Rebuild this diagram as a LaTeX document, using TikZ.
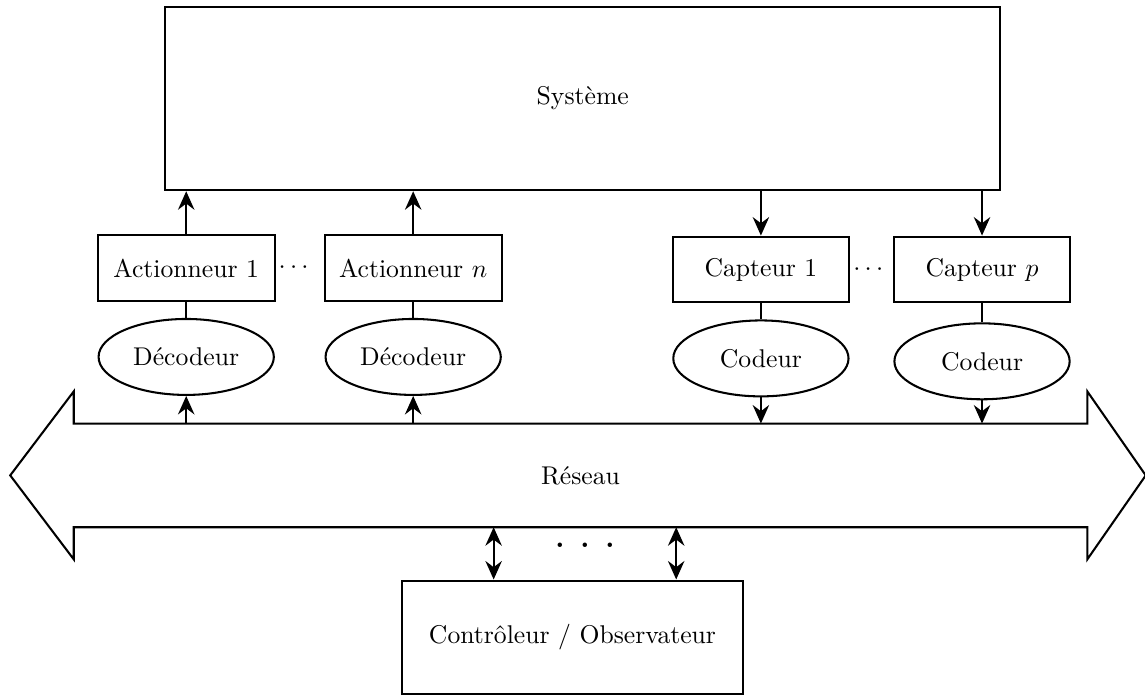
\documentclass[tikz,border=0pt]{standalone}
\usetikzlibrary{arrows.meta, positioning, shapes}
\tikzset {
  block/.style = {draw, thick, rectangle, text centered, minimum height=0.9cm, minimum width=2.42cm},
  coder/.style = {draw, thick, ellipse, text centered, minimum height=1.04cm, minimum width=2.4cm},
  line/.style = {->, thick, color=black, >={Stealth[length=7.2pt, width=6.4pt, inset=2.4pt]}},
  biline/.style = {<->, thick, color=black, >={Stealth[length=7.2pt, width=6.4pt, inset=2.4pt]}},
  plain/.style = {thick}
}
\begin{document}
\begin{tikzpicture}
    \useasboundingbox (0,0) rectangle (15.68,-9.53);

    \node[block, minimum width=11.44cm, minimum height=2.51cm] (sys) at (7.98,-1.35) {Système};

    % actionneurs / decodeurs
    \node[block] (act1) at (2.55,-3.67) {Actionneur 1};
    \node[block, right=0.66cm of act1] (actn) {Actionneur $n$};
    \node[right=0pt of act1, inner sep=1pt] (dotsact) {$\cdots$};
    \node[coder, below=0.22cm of act1] (dec1) {Décodeur};
    \node[coder, below=0.22cm of actn] (decn) {Décodeur};

    % capteurs / codeurs
    \node[block] (cap1) at (10.42,-3.69) {Capteur 1};
    \node[block, right=0.58cm of cap1] (capp) {Capteur $p$};
    \node[right=0pt of cap1, inner sep=1pt] (dotscap) {$\cdots$};
    \node[coder, below=0.22cm of cap1] (cod1) {Codeur};
    \node[coder, below=0.26cm of capp] (codp) {Codeur};

    % reseau
    \node[minimum width=13.88cm, minimum height=1.42cm, outer sep=0pt] (net) at (7.95,-6.51) {Réseau};
    \draw[plain] (net.north west) -- (net.north east) -- ([yshift=0.44cm]net.north east)
        -- ([xshift=0.8cm]net.east) -- ([yshift=-0.44cm]net.south east) -- (net.south east)
        -- (net.south west) -- ([yshift=-0.44cm]net.south west) -- ([xshift=-0.87cm]net.west)
        -- ([yshift=0.44cm]net.north west) -- cycle;

    \node[block, minimum width=4.67cm, minimum height=1.56cm] (ctrl) at (7.84,-8.73) {Contrôleur / Observateur};
    \node (dotsnet) at (8.01,-7.47) {\large\bfseries .\enspace.\enspace.};
    \coordinate (c1) at ([xshift=-1.08cm]ctrl.north);
    \coordinate (c2) at ([xshift=1.42cm]ctrl.north);

    \draw[line] (act1.north) -- (act1 |- sys.south);
    \draw[line] (actn.north) -- (actn |- sys.south);
    \draw[plain] (act1) -- (dec1);
    \draw[plain] (actn) -- (decn);
    \draw[line] (dec1.south |- net.north) -- (dec1.south);
    \draw[line] (decn.south |- net.north) -- (decn.south);

    \draw[line] (cap1 |- sys.south) -- (cap1.north);
    \draw[line] (capp |- sys.south) -- (capp.north);
    \draw[plain] (cap1) -- (cod1);
    \draw[plain] (capp) -- (codp);
    \draw[line] (cod1.south) -- (cod1.south |- net.north);
    \draw[line] (codp.south) -- (codp.south |- net.north);

    \draw[biline] (c1 |- net.south) -- (c1);
    \draw[biline] (c2 |- net.south) -- (c2);

\end{tikzpicture}
\end{document}
